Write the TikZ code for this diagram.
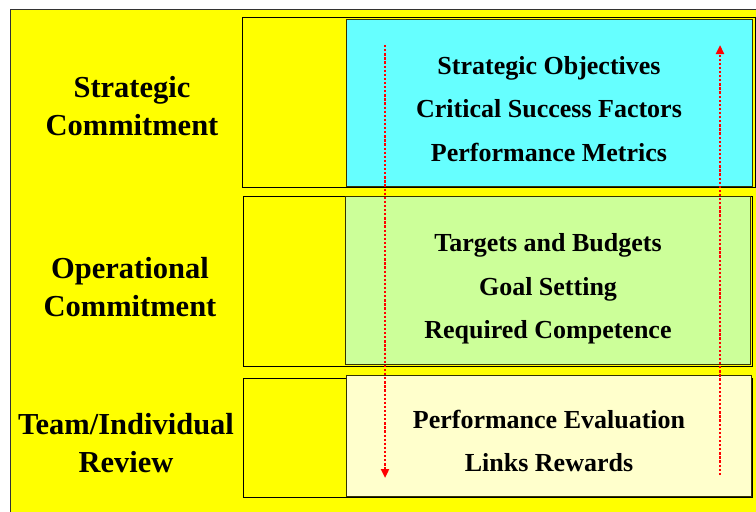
\documentclass[tikz,border=0pt]{standalone}
\usepackage{fontspec}
\setmainfont{Liberation Serif}
\usetikzlibrary{shadows,arrows.meta}
\definecolor{bgyellow}{HTML}{FFFF00}
\definecolor{cyanbox}{HTML}{66FFFF}
\definecolor{greenbox}{HTML}{CCFF99}
\definecolor{paleyellow}{HTML}{FFFFCC}
\definecolor{edgeolive}{HTML}{333300}
\tikzset{
  rowframe/.style={draw=black, line width=0.8pt, fill=bgyellow},
  contentbox/.style={draw=edgeolive, line width=0.8pt,
    drop shadow={shadow xshift=1.3pt, shadow yshift=-1.3pt, fill=black!70, opacity=1}},
  leftlabel/.style={align=center, font=\bfseries\fontsize{30.5}{38}\selectfont, inner sep=0pt},
  itemtext/.style={align=center, font=\bfseries\fontsize{26}{43.5}\selectfont, inner sep=0pt},
  flowarrow/.style={draw=red, line width=2.3pt, dash pattern=on 2.3pt off 1.8pt,
    -{Triangle[length=9pt,width=8pt,sep=0pt]}}
}
\begin{document}
\begin{tikzpicture}[x=1pt,y=-1pt]
\useasboundingbox (0,0) rectangle (756,512);
% background
\fill[bgyellow] (10,9) rectangle (757,513);
\draw[line width=1pt, black!80] (10,513) -- (10,9) -- (757,9);

% row frames
\draw[rowframe] (242,17) rectangle (755,187);
\draw[rowframe] (243,196) rectangle (752,366);
\draw[rowframe] (243,378) rectangle (752,497);

% content boxes
\draw[contentbox, fill=cyanbox] (346,19) rectangle (752,186);
\draw[contentbox, fill=greenbox] (345,196) rectangle (750,364);
\draw[contentbox, fill=paleyellow] (346,375) rectangle (751,496);

% left labels
\node[leftlabel] (strat) at (132,106) {Strategic\\Commitment};
\node[leftlabel] (oper) at (130,287) {Operational\\Commitment};
\node[leftlabel] (team) at (126,443) {Team/Individual\\Review};

% box texts
\node[itemtext] (t1) at (549,109) {Strategic Objectives\\Critical Success Factors\\Performance Metrics};
\node[itemtext] (t2) at (548,289) {Targets and Budgets\\Goal Setting\\Required Competence};
\node[itemtext] (t3) at (549,441) {Performance Evaluation\\Links Rewards};

% arrows
\coordinate (ltop) at (385,45);
\coordinate (lbot) at (385,478);
\coordinate (rbot) at (720,475);
\coordinate (rtop) at (720,45);
\draw[flowarrow] (ltop) -- (lbot);
\draw[flowarrow] (rbot) -- (rtop);
\end{tikzpicture}
\end{document}
